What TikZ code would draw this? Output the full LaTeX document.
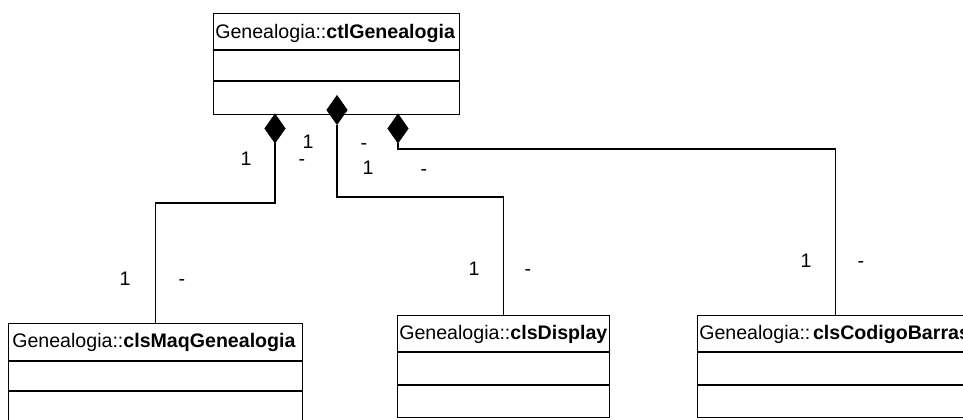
\documentclass[tikz,border=0pt]{standalone}
\usepackage{fontspec}
\setmainfont{Liberation Sans}
\usetikzlibrary{shapes.geometric}
\begin{document}
\begin{tikzpicture}[x=0.75pt,y=-0.75pt,
  cls/.style={draw, line width=1.1pt, inner sep=0, anchor=north west},
  ttl/.style={anchor=base west, inner sep=0, font=\fontsize{14.7}{17}\selectfont},
  lbl/.style={anchor=base, inner sep=0, font=\fontsize{14.7}{17}\selectfont},
  comp/.style={draw, fill=black, shape=diamond, inner sep=0, minimum width=15.5pt, minimum height=22pt},
  conn/.style={line width=1.1pt},
  sep/.style={line width=1.1pt}]
\useasboundingbox (0,0) rectangle (963,419);
\clip (0,0) rectangle (963,419);
% classes
\node[cls, minimum width=184.5pt, minimum height=75.75pt] (ctl) at (213,13) {};
\draw[sep] (ctl.west |- 0,50) -- (ctl.east |- 0,50);
\draw[sep] (ctl.west |- 0,81) -- (ctl.east |- 0,81);
\node[ttl] (tctl) at (215,38) {Genealogia::\textbf{ctlGenealogia}};

\node[cls, minimum width=220.5pt, minimum height=75pt] (maq) at (8,323) {};
\draw[sep] (maq.west |- 0,361) -- (maq.east |- 0,361);
\draw[sep] (maq.west |- 0,391) -- (maq.east |- 0,391);
\node[ttl] (tmaq) at (12,347) {Genealogia::\textbf{clsMaqGenealogia}};

\node[cls, minimum width=159pt, minimum height=76.5pt] (disp) at (397,315) {};
\draw[sep] (disp.west |- 0,352) -- (disp.east |- 0,352);
\draw[sep] (disp.west |- 0,385) -- (disp.east |- 0,385);
\node[ttl] (tdisp) at (399,339) {Genealogia::\textbf{clsDisplay}};

\node[cls, minimum width=207pt, minimum height=76.5pt] (cod) at (697,315) {};
\draw[sep] (cod.west |- 0,352) -- (cod.east |- 0,352);
\draw[sep] (cod.west |- 0,385) -- (cod.east |- 0,385);
\node[ttl] (tcod) at (699,339) {Genealogia::\hspace{2pt}\textbf{clsCodigoBarras}};

% diamonds
\node[comp] (dl) at (275,128.5) {};
\node[comp] (dm) at (337,110) {};
\node[comp] (dr) at (398,128.5) {};

% connectors
\coordinate (bl) at (275,203);
\coordinate (bm) at (337,197);
\coordinate (br) at (398,149);
\draw[conn] (dl.south) -- (bl) -| (maq.north);
\draw[conn] (dm.south) -- (bm) -| (disp.north);
\draw[conn] (dr.south) -- (br) -| (cod.north);

% multiplicities
\node[lbl] (l1) at (246,165) {1};
\node[lbl] (l2) at (302,165) {-};
\node[lbl] (l3) at (308,148) {1};
\node[lbl] (l4) at (364,149) {-};
\node[lbl] (l5) at (368,174) {1};
\node[lbl] (l6) at (424,175) {-};
\node[lbl] (l7) at (125,285) {1};
\node[lbl] (l8) at (182,285) {-};
\node[lbl] (l9) at (474,275) {1};
\node[lbl] (l10) at (528,275) {-};
\node[lbl] (l11) at (806,267) {1};
\node[lbl] (l12) at (861,267) {-};
\end{tikzpicture}
\end{document}
